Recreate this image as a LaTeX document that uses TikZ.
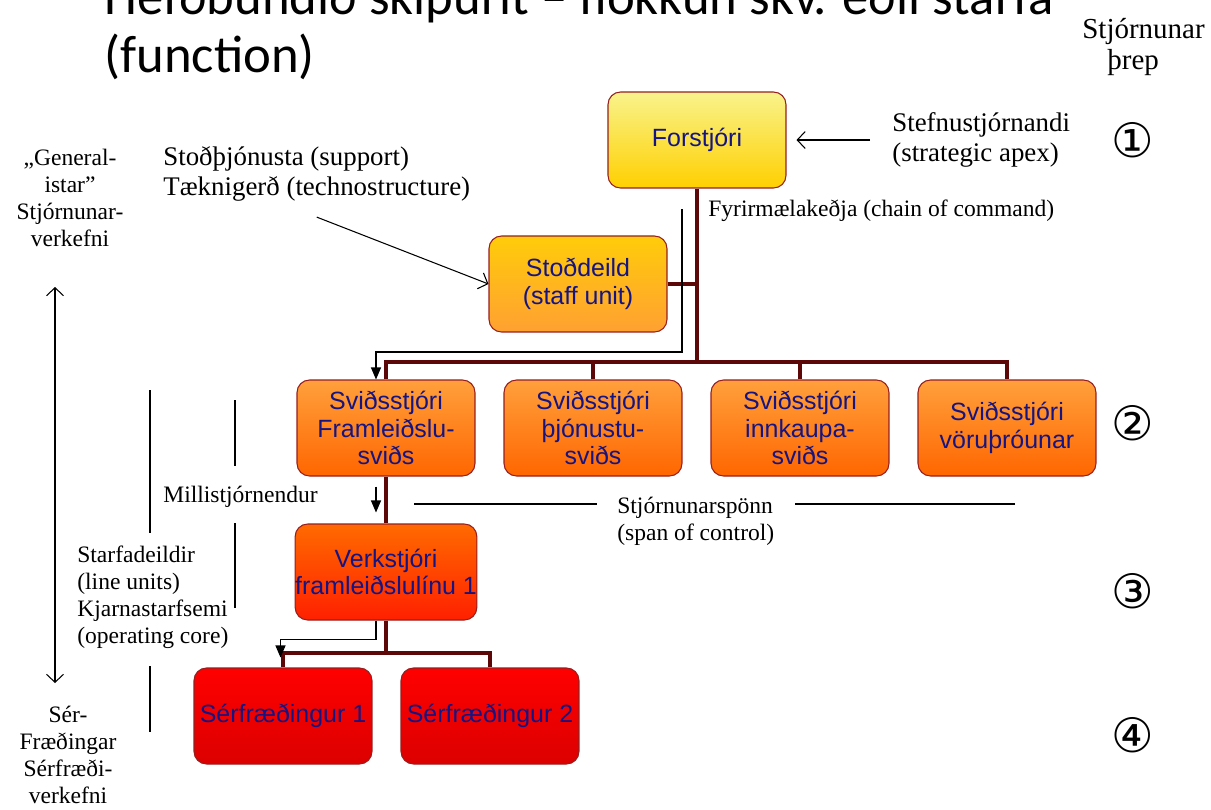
\documentclass[tikz,border=0pt]{standalone}
\usepackage{fontspec}
\setmainfont{Liberation Serif}
\setsansfont{Liberation Sans}
\newfontfamily\titlefont{Carlito}
\newfontfamily\numfont{DejaVu Sans}
\usetikzlibrary{arrows.meta}
\definecolor{boxtext}{RGB}{20,20,130}
\definecolor{boxline}{RGB}{150,30,30}
\definecolor{linkcol}{RGB}{92,8,8}
\begin{document}
\begin{tikzpicture}[x=0.02cm,y=-0.02cm,
    box/.style={draw=boxline, line width=0.6pt, rounded corners=0.25cm,
      minimum width=3.56cm, minimum height=1.92cm, inner sep=0pt, align=center,
      text=boxtext, font=\sffamily\fontsize{14.2}{15.8}\selectfont},
    apexbox/.style={box, top color={rgb,255:red,249;green,243;blue,140}, bottom color={rgb,255:red,255;green,208;blue,0}},
    staffbox/.style={box, top color={rgb,255:red,255;green,204;blue,10}, bottom color={rgb,255:red,255;green,160;blue,50}},
    headbox/.style={box, top color={rgb,255:red,255;green,160;blue,60}, bottom color={rgb,255:red,255;green,102;blue,0}},
    foremanbox/.style={box, top color={rgb,255:red,255;green,106;blue,0}, bottom color={rgb,255:red,255;green,32;blue,0}},
    expertbox/.style={box, top color={rgb,255:red,255;green,0;blue,0}, bottom color={rgb,255:red,220;green,0;blue,0}},
    conn/.style={draw=linkcol, line width=2.4pt},
    pointer/.style={draw=black, line width=0.6pt},
    open/.style={pointer, -{Straight Barb[length=1.6mm,width=3.4mm]}},
    solid tip/.style={pointer, -{Triangle[length=2.4mm,width=2mm]}},
    bracket/.style={draw=black, line width=0.9pt},
    big/.style={inner sep=0pt, align=left, font=\fontsize{15.3}{17.5}\selectfont},
    small/.style={inner sep=0pt, align=left, font=\fontsize{13.4}{15.4}\selectfont},
    num/.style={inner sep=0pt, font=\numfont\fontsize{27}{27}\selectfont}]

  \clip (0,0) rectangle (1211,809);

  \node[anchor=base west, align=left, inner sep=0pt, font=\titlefont\fontsize{30}{33}\selectfont]
    (title) at (104,72) {Hefðbundið skipurit – flokkun skv. eðli starfa\\(function)};
  \node[anchor=west, inner sep=0pt, align=left, font=\fontsize{16.5}{17.2}\selectfont]
    (threp) at (1082,47) {Stjórnunar\\\hspace*{0.5cm}þrep};

  \node[apexbox]    (forstjori) at (697,140) {Forstjóri};
  \node[staffbox]   (stod)      at (578,284) {Stoðdeild\\(staff unit)};
  \node[headbox]    (s1)        at (386,428) {Sviðsstjóri\\Framleiðslu-\\sviðs};
  \node[headbox]    (s2)        at (593,428) {Sviðsstjóri\\þjónustu-\\sviðs};
  \node[headbox]    (s3)        at (800,428) {Sviðsstjóri\\innkaupa-\\sviðs};
  \node[headbox]    (s4)        at (1007,428) {Sviðsstjóri\\vöruþróunar};
  \node[foremanbox] (verk)      at (386,572) {Verkstjóri\\framleiðslulínu 1};
  \node[expertbox]  (sf1)       at (283,716) {Sérfræðingur 1};
  \node[expertbox]  (sf2)       at (490,716) {Sérfræðingur 2};

  \node[big, anchor=west]   (support)   at (163,174) {Stoðþjónusta (support)\\Tæknigerð (technostructure)};
  \node[big, anchor=west]   (apex)      at (892,140) {Stefnustjórnandi\\(strategic apex)};
  \node[small, anchor=west] (chain)     at (708,211) {Fyrirmælakeðja (chain of command)};
  \node[small, anchor=west] (middle)    at (163,497) {Millistjórnendur};
  \node[small, anchor=west, inner xsep=0.4cm] (span) at (597,521) {Stjórnunarspönn\\(span of control)};
  \node[small, align=center] (general)  at (70,198) {„General-\\istar”\\Stjórnunar-\\verkefni};
  \node[small, anchor=west] (lineunits) at (77,597) {Starfadeildir\\(line units)\\Kjarnastarfsemi\\(operating core)};
  \node[small, align=center] (experts)  at (68,755) {Sér-\\Fræðingar\\Sérfræði-\\verkefni};

  \node[num] (lvl1) at (1133,140) {①};
  \node[num] (lvl2) at (1133,423) {②};
  \node[num] (lvl3) at (1133,591) {③};
  \node[num] (lvl4) at (1133,735) {④};

  \coordinate (bus)  at (697,362);
  \coordinate (vbus) at (386,653);
  \path[conn] (forstjori.south) -- (bus);
  \path[conn] (s1.north) |- (bus) -| (s4.north);
  \path[conn] (s2.north) -- (s2.north |- bus);
  \path[conn] (s3.north) -- (s3.north |- bus);
  \path[conn] (stod.east) -- (stod.east -| bus);
  \path[conn] (s1.south) -- (verk.north);
  \path[conn] (verk.south) -- (vbus);
  \path[conn] (sf1.north) |- (vbus) -| (sf2.north);

  \coordinate (cmdtop)  at (682,209);
  \coordinate (cmdbend) at (682,352);
  \draw[solid tip] (cmdtop) -- (cmdbend) -| ([xshift=-0.2cm]s1.north);
  \draw[solid tip] ([xshift=-0.2cm,yshift=-0.2cm]s1.south) -- ([xshift=-0.2cm,yshift=0.22cm]verk.north);
  \draw[solid tip] ([xshift=-0.2cm]verk.south) -- ++(0,19) -| ([xshift=-0.05cm,yshift=0.2cm]sf1.north);
  \draw[open] ([yshift=-0.3cm]support.south) -- (stod.west);
  \draw[open, shorten >=0.2cm] ([xshift=-0.44cm]apex.west) -- (forstjori.east |- apex.west);

  \coordinate (spanleft)  at (414,504);
  \coordinate (spanright) at (1015,504);
  \draw[pointer] (spanleft) -- (spanleft -| span.west);
  \draw[pointer] (spanright) -- (spanright -| span.east);

  \coordinate (gtop) at (55,287);
  \coordinate (gbot) at (55,683);
  \draw[open, {Straight Barb[length=1.6mm,width=3.4mm]}-{Straight Barb[length=1.6mm,width=3.4mm]}] (gtop) -- (gbot);

  \draw[bracket] (150,390) -- (150,533);
  \draw[bracket] (150,666) -- (150,732);
  \draw[bracket] (235,400) -- (235,466);
  \draw[bracket] (235,523) -- (235,608);

\end{tikzpicture}
\end{document}
